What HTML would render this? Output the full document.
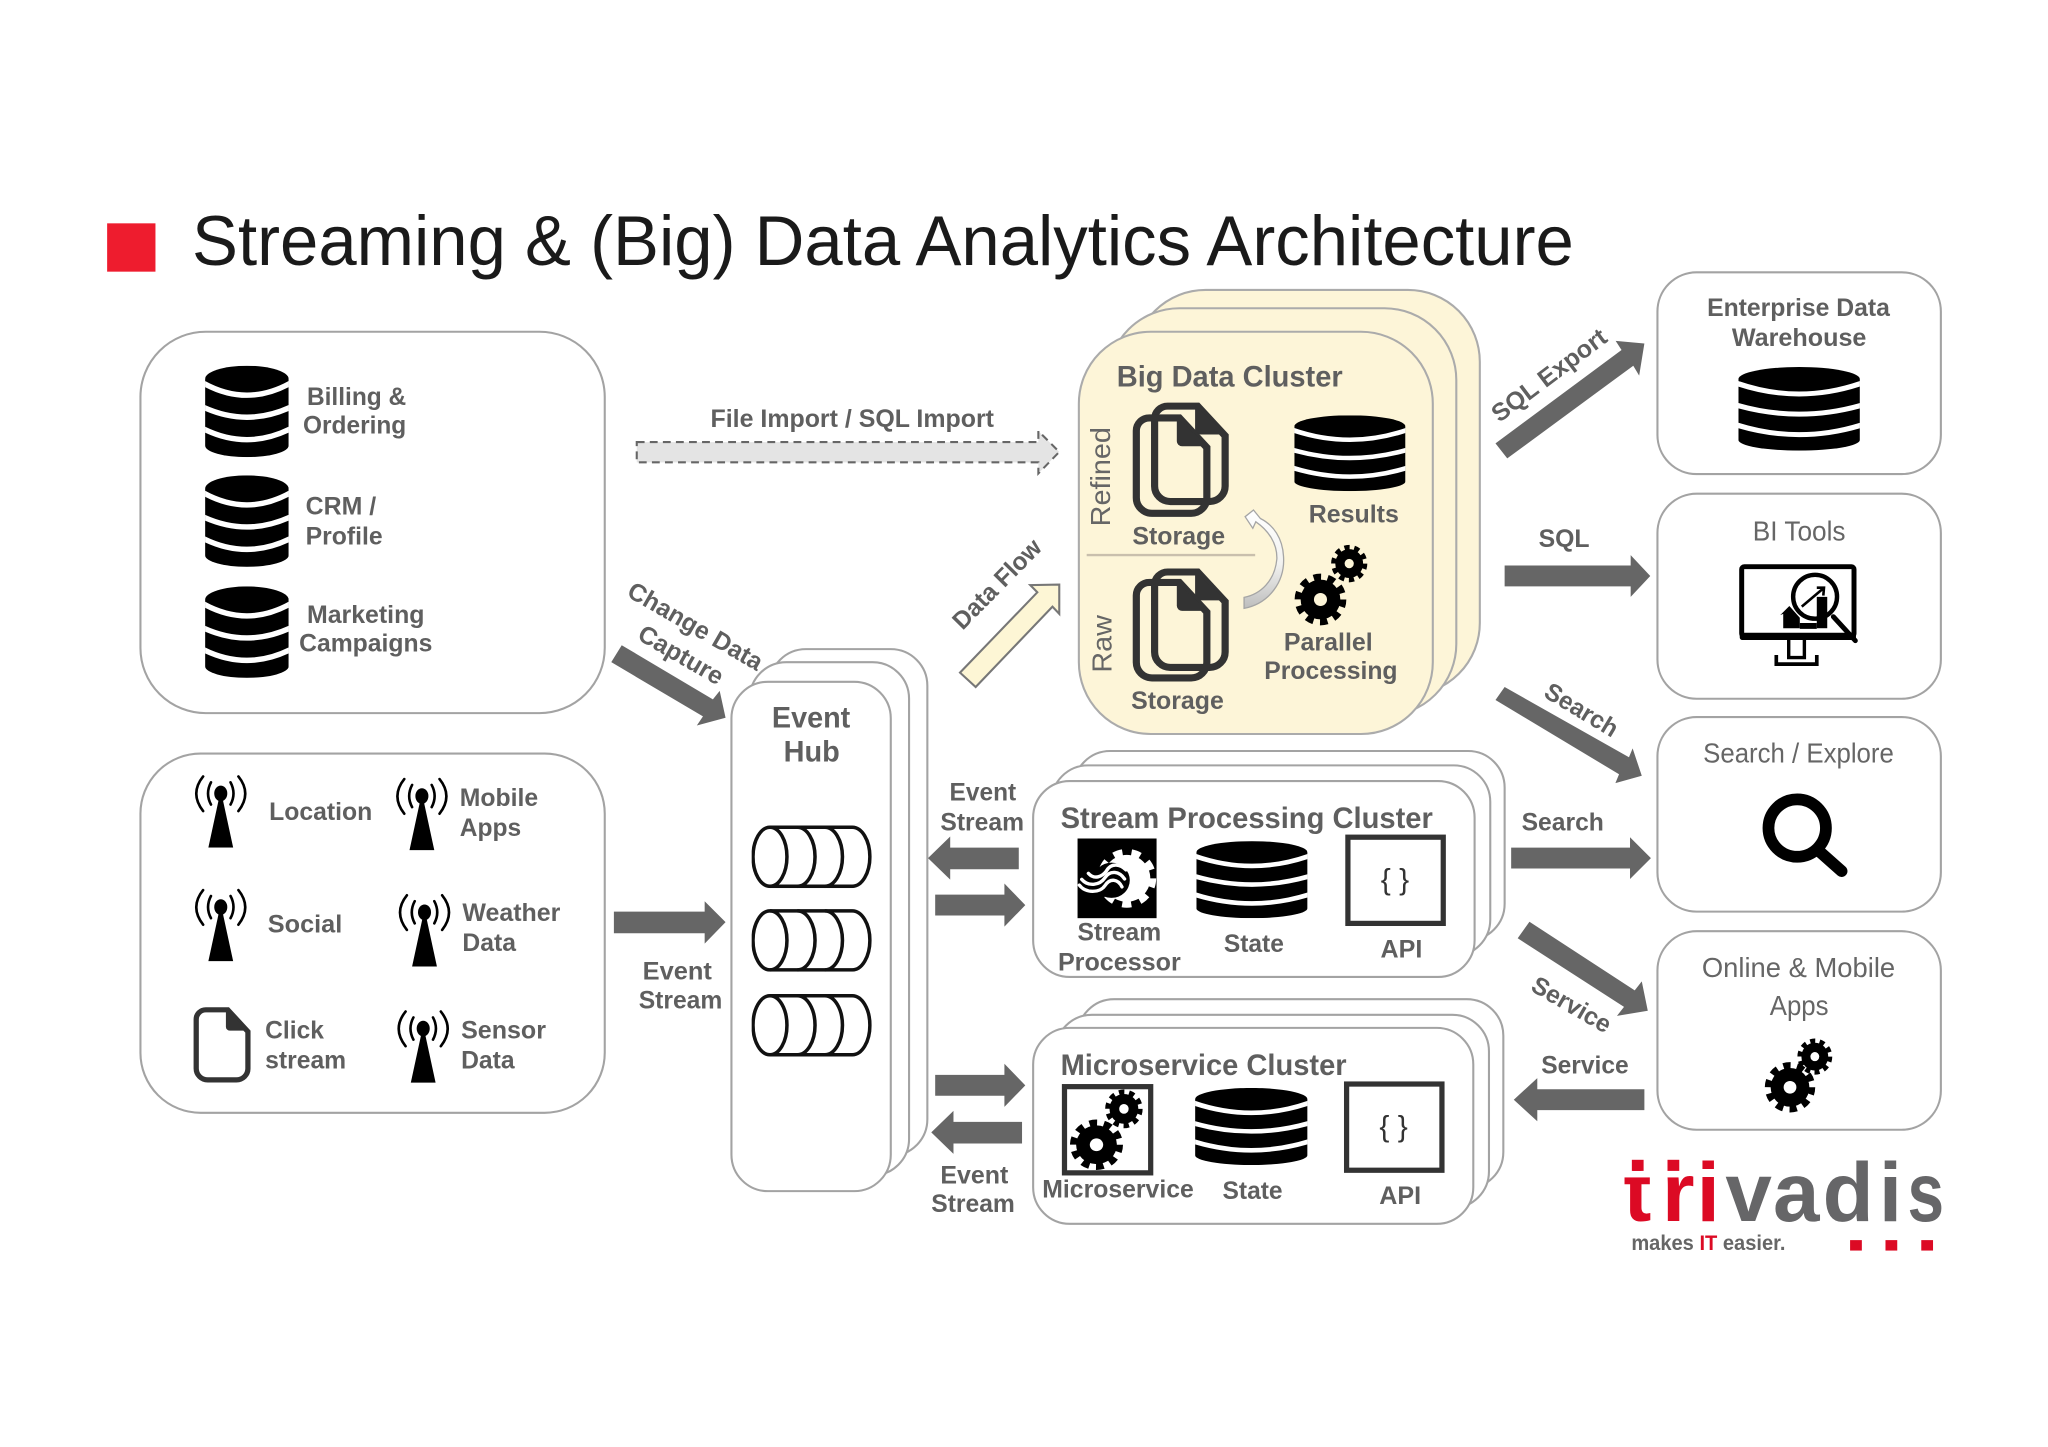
<!DOCTYPE html>
<html><head><meta charset="utf-8"><title>Streaming &amp; (Big) Data Analytics Architecture</title>
<style>
html,body{margin:0;padding:0;background:#fff}
svg{display:block}
text{font-family:"Liberation Sans",Arial,sans-serif}
.b{font-weight:bold;font-size:19px;fill:#5f5f5f}
.h{font-weight:bold;font-size:23px;fill:#5f5f5f}
.r{font-size:21px;fill:#666}
.box{fill:#fff;stroke:#a3a3a3;stroke-width:1.6}
.y{fill:#fdf5d8;stroke:#ababab;stroke-width:1.6}
.a{fill:#666}
</style></head><body>
<svg xmlns="http://www.w3.org/2000/svg" width="2048" height="1447" viewBox="0 0 1568 1107.9">
<defs>
<symbol id="db" viewBox="0 0 100 110" preserveAspectRatio="none">
<path d="M0 16A50 16 0 0 1 100 16V96A50 14 0 0 1 0 96Z" fill="#000"/>
<path d="M-2 21Q50 50 102 21M-2 50Q50 74 102 50M-2 76Q50 102 102 76" fill="none" stroke="#fff" stroke-width="6.500"/>
</symbol>
<symbol id="ant" viewBox="0 0 40 56">
<path d="M20 12L29.500 56H10.500Z" fill="#000"/><ellipse cx="20" cy="14.500" rx="5" ry="6" fill="#000"/>
<g fill="none" stroke="#000" stroke-width="2" stroke-linecap="round">
<path d="M12.500 6Q8 14.500 12.500 23M27.500 6Q32 14.500 27.500 23"/>
<path d="M6.500 1.500Q-4 14.500 6.500 28M33.500 1.500Q44 14.500 33.500 28"/>
</g>
</symbol>
<symbol id="doc" viewBox="0 0 60 80" preserveAspectRatio="none">
<path d="M13 3H36L57 26V65A12 12 0 0 1 45 77H15A12 12 0 0 1 3 65V13A10 10 0 0 1 13 3Z" fill="none" stroke="#333" stroke-width="5.500"/>
<path d="M34 3L58 25H38A4 4 0 0 1 34 21Z" fill="#333"/>
</symbol>
<symbol id="gear" viewBox="0 0 100 100" preserveAspectRatio="none">
<circle cx="50" cy="50" r="38" fill="#000"/>
<circle cx="50" cy="50" r="42" fill="none" stroke="#000" stroke-width="15" stroke-dasharray="14 12.390"/>
<circle cx="50" cy="50" r="12.500" fill="currentColor"/>
</symbol>
<symbol id="cyl" viewBox="0 0 92 48">
<g fill="none" stroke="#111" stroke-width="2.700">
<ellipse cx="14" cy="24" rx="13" ry="22.600"/>
<path d="M14 1.400H77A13.500 22.600 0 0 1 77 46.600H14"/>
<path d="M35 1.400A13.500 22.600 0 0 1 35 46.600M56 1.400A13.500 22.600 0 0 1 56 46.600"/>
</g>
</symbol>
<linearGradient id="cg" x1="0" y1="0" x2="0" y2="1"><stop offset="0" stop-color="#fff"/><stop offset="0.55" stop-color="#f2f2f0"/><stop offset="1" stop-color="#bdbdbd"/></linearGradient>
</defs>

<rect x="0" y="0" width="1568" height="1108" fill="#fff"/>
<rect x="82" y="171" width="37" height="37" fill="#ee1c2e"/>
<text x="147" y="203" font-size="54" fill="#1a1a1a" textLength="1058" lengthAdjust="spacingAndGlyphs">Streaming &amp; (Big) Data Analytics Architecture</text>

<!-- source boxes -->
<rect class="box" x="107.500" y="254" width="355.500" height="292" rx="50"/>
<rect class="box" x="107.500" y="577" width="355.500" height="275" rx="46"/>
<use href="#db" x="157" y="280" width="64" height="70"/>
<use href="#db" x="157" y="364" width="64" height="70"/>
<use href="#db" x="157" y="449" width="64" height="70"/>
<text class="b" x="235" y="310" textLength="76" lengthAdjust="spacingAndGlyphs">Billing &amp;</text>
<text class="b" x="232" y="332" textLength="79" lengthAdjust="spacingAndGlyphs">Ordering</text>
<text class="b" x="234" y="394" textLength="54" lengthAdjust="spacingAndGlyphs">CRM /</text>
<text class="b" x="234" y="417" textLength="59" lengthAdjust="spacingAndGlyphs">Profile</text>
<text class="b" x="235" y="477" textLength="90" lengthAdjust="spacingAndGlyphs">Marketing</text>
<text class="b" x="229" y="499" textLength="102" lengthAdjust="spacingAndGlyphs">Campaigns</text>

<use href="#ant" x="149" y="593" width="40" height="56"/>
<use href="#ant" x="303" y="595" width="40" height="56"/>
<use href="#ant" x="149" y="680" width="40" height="56"/>
<use href="#ant" x="305" y="684" width="40" height="56"/>
<use href="#ant" x="304" y="773" width="40" height="56"/>
<use href="#doc" x="148" y="771" width="44" height="58"/>
<text class="b" x="206" y="628" textLength="79" lengthAdjust="spacingAndGlyphs">Location</text>
<text class="b" x="352" y="617" textLength="60" lengthAdjust="spacingAndGlyphs">Mobile</text>
<text class="b" x="352" y="640" textLength="47" lengthAdjust="spacingAndGlyphs">Apps</text>
<text class="b" x="205" y="714" textLength="57" lengthAdjust="spacingAndGlyphs">Social</text>
<text class="b" x="354" y="705" textLength="75" lengthAdjust="spacingAndGlyphs">Weather</text>
<text class="b" x="354" y="728" textLength="41" lengthAdjust="spacingAndGlyphs">Data</text>
<text class="b" x="203" y="795" textLength="45" lengthAdjust="spacingAndGlyphs">Click</text>
<text class="b" x="203" y="818" textLength="62" lengthAdjust="spacingAndGlyphs">stream</text>
<text class="b" x="353" y="795" textLength="65" lengthAdjust="spacingAndGlyphs">Sensor</text>
<text class="b" x="353" y="818" textLength="41" lengthAdjust="spacingAndGlyphs">Data</text>

<!-- dashed import arrow -->
<text class="b" x="544" y="327" textLength="217" lengthAdjust="spacingAndGlyphs">File Import / SQL Import</text>
<polygon points="487.500,338.500 795,338.500 795,330 811,346 795,362.500 795,354 487.500,354" fill="#e4e4e4" stroke="#666" stroke-width="1.600" stroke-dasharray="6 4"/>

<!-- change data capture -->
<polygon class="a" points="476,494 545.800,535.500 551,529 555.500,549.500 533.500,555.500 538.200,548.500 468,507"/>

<!-- data flow arrow -->
<polygon points="735,515 794.200,453.500 788.800,448 811,447.600 811,470 805.800,464.500 747,526" fill="#fdf6d5" stroke="#777" stroke-width="1.600"/>
<text class="b" transform="translate(737,483) rotate(-45.500)" textLength="88" lengthAdjust="spacingAndGlyphs">Data Flow</text>

<!-- event hub -->
<rect class="box" x="589" y="497" width="121" height="388" rx="28"/>
<rect class="box" x="574" y="507" width="122" height="393" rx="28"/>
<rect class="box" x="560" y="522" width="122" height="390" rx="28"/>
<text class="b" transform="translate(479,456) rotate(30)" textLength="116" lengthAdjust="spacingAndGlyphs">Change Data</text>
<text class="b" transform="translate(487,489) rotate(30)" textLength="72" lengthAdjust="spacingAndGlyphs">Capture</text>
<text class="h" x="591" y="557" textLength="60" lengthAdjust="spacingAndGlyphs">Event</text>
<text class="h" x="600" y="583" textLength="43" lengthAdjust="spacingAndGlyphs">Hub</text>
<use href="#cyl" x="575.500" y="632" width="92" height="48"/>
<use href="#cyl" x="575.500" y="696" width="92" height="48"/>
<use href="#cyl" x="575.500" y="761" width="92" height="48"/>

<!-- event stream arrows -->
<polygon class="a" points="470,698 539.500,698 539.500,690 555.500,706 539.500,722.500 539.500,714.500 470,714.500"/>
<text class="b" x="492" y="750" textLength="53" lengthAdjust="spacingAndGlyphs">Event</text>
<text class="b" x="489" y="772" textLength="64" lengthAdjust="spacingAndGlyphs">Stream</text>
<polygon class="a" points="710.500,657 727.500,640.500 727.500,649 780,649 780,665.500 727.500,665.500 727.500,673.500"/>
<polygon class="a" points="716,685 769,685 769,676.500 785,693 769,709.500 769,701 716,701"/>
<polygon class="a" points="716,823 769,823 769,814.500 785,831 769,847.500 769,839 716,839"/>
<polygon class="a" points="713,867 730,850.500 730,859 782.500,859 782.500,875.500 730,875.500 730,883.500"/>
<text class="b" x="727" y="613" textLength="51" lengthAdjust="spacingAndGlyphs">Event</text>
<text class="b" x="720" y="636" textLength="64" lengthAdjust="spacingAndGlyphs">Stream</text>
<text class="b" x="720" y="906" textLength="52" lengthAdjust="spacingAndGlyphs">Event</text>
<text class="b" x="713" y="928" textLength="64" lengthAdjust="spacingAndGlyphs">Stream</text>

<!-- big data cluster -->
<rect class="y" x="868" y="222" width="265" height="310" rx="55"/>
<rect class="y" x="848" y="236" width="267" height="312" rx="55"/>
<rect class="y" x="826" y="254" width="271" height="308" rx="55"/>
<text class="h" x="855" y="296" textLength="173" lengthAdjust="spacingAndGlyphs">Big Data Cluster</text>
<text class="r" font-size="22" transform="translate(850,403) rotate(-90)" textLength="76" lengthAdjust="spacingAndGlyphs" fill="#5a5a5a">Refined</text>
<text class="r" font-size="22" transform="translate(851,515) rotate(-90)" textLength="44" lengthAdjust="spacingAndGlyphs" fill="#5a5a5a">Raw</text>
<line x1="832" y1="425" x2="961" y2="425" stroke="#c9bfad" stroke-width="1.800"/>
<use href="#doc" x="881" y="308" width="60" height="79"/>
<use href="#doc" x="867" y="317" width="60" height="79"/>
<use href="#doc" x="881" y="435" width="60" height="79"/>
<use href="#doc" x="867" y="443" width="60" height="79"/>
<use href="#db" x="991" y="318" width="85" height="58"/>
<text class="b" x="867" y="417" textLength="71" lengthAdjust="spacingAndGlyphs">Storage</text>
<text class="b" x="866" y="543" textLength="71" lengthAdjust="spacingAndGlyphs">Storage</text>
<text class="b" x="1002" y="400" textLength="69" lengthAdjust="spacingAndGlyphs">Results</text>
<text class="b" x="983" y="498" textLength="68" lengthAdjust="spacingAndGlyphs">Parallel</text>
<text class="b" x="968" y="520" textLength="102" lengthAdjust="spacingAndGlyphs">Processing</text>
<path d="M952.500 465.800C972 462 984 445 982.700 426C982 412 975 402 965 397L959.700 390.500L953.300 395.600L959.200 404.500L961.500 399.500C971 406 978 416 977.600 428C976 445 965 455 952.500 457.400Z" fill="url(#cg)" stroke="#a5a5a5" stroke-width="1"/>
<use href="#gear" x="1019" y="417" width="28" height="29" color="#fdf5d8"/>
<use href="#gear" x="991" y="439" width="40" height="40" color="#fdf5d8"/>

<!-- stream cluster -->
<rect class="box" x="822" y="575" width="330" height="145" rx="28"/>
<rect class="box" x="805" y="586" width="336" height="146" rx="28"/>
<rect class="box" x="791" y="598" width="338" height="150" rx="28"/>
<text class="h" x="812" y="634" textLength="285" lengthAdjust="spacingAndGlyphs">Stream Processing Cluster</text>
<rect x="825" y="642" width="60.500" height="61" fill="#000"/>
<circle cx="862.700" cy="672.500" r="18" fill="#fff"/>
<circle cx="862.700" cy="672.500" r="20" fill="none" stroke="#fff" stroke-width="5" stroke-dasharray="7 6.960"/>
<ellipse cx="851" cy="674" rx="14" ry="13.500" fill="#000"/>
<g fill="none" stroke="#fff" stroke-width="2.600" stroke-linecap="round">
<path d="M833.300 668.700C838 674 844 671 847 667C851 660 858 662 862 666"/>
<path d="M828.200 673.300C833 679 842 678 846 672C850 666 857 667 861 673"/>
<path d="M826.400 677.700C831 684 842 684 846 678C850 672 856 673 859 679"/>
</g>
<use href="#db" x="916" y="644" width="85" height="59"/>
<rect x="1032" y="641" width="73" height="66" fill="#fff" stroke="#333" stroke-width="4"/>
<text x="1068" y="681" font-size="23" fill="#333" text-anchor="middle">{ }</text>
<text class="b" x="825" y="720" textLength="64" lengthAdjust="spacingAndGlyphs">Stream</text>
<text class="b" x="810" y="743" textLength="94" lengthAdjust="spacingAndGlyphs">Processor</text>
<text class="b" x="937" y="729" textLength="46" lengthAdjust="spacingAndGlyphs">State</text>
<text class="b" x="1057" y="733" textLength="32" lengthAdjust="spacingAndGlyphs">API</text>

<!-- microservice cluster -->
<rect class="box" x="825" y="765" width="326" height="145" rx="28"/>
<rect class="box" x="808" y="777" width="332" height="148" rx="28"/>
<rect class="box" x="791" y="787" width="337" height="150" rx="28"/>
<text class="h" x="812" y="823" textLength="219" lengthAdjust="spacingAndGlyphs">Microservice Cluster</text>
<rect x="815" y="832" width="66" height="66" fill="#fff" stroke="#333" stroke-width="4"/>
<use href="#gear" x="846" y="834" width="29" height="30" color="#fff"/>
<use href="#gear" x="819" y="857" width="41" height="39" color="#fff"/>
<use href="#db" x="915" y="833" width="86" height="59"/>
<rect x="1031" y="830" width="73" height="66" fill="#fff" stroke="#333" stroke-width="4"/>
<text x="1067" y="870" font-size="23" fill="#333" text-anchor="middle">{ }</text>
<text class="b" x="798" y="917" textLength="116" lengthAdjust="spacingAndGlyphs">Microservice</text>
<text class="b" x="936" y="918" textLength="46" lengthAdjust="spacingAndGlyphs">State</text>
<text class="b" x="1056" y="922" textLength="32" lengthAdjust="spacingAndGlyphs">API</text>

<!-- right arrows -->
<polygon class="a" points="1145,339.500 1241.500,268 1237,261 1259,263 1255,287.600 1250.500,280 1154,351"/>
<text class="b" transform="translate(1148,324) rotate(-37)" textLength="105" lengthAdjust="spacingAndGlyphs">SQL Export</text>
<polygon class="a" points="1152,433 1248.500,433 1248.500,425 1263.500,441 1248.500,457 1248.500,449 1152,449"/>
<text class="b" x="1178" y="419" textLength="39" lengthAdjust="spacingAndGlyphs">SQL</text>
<polygon class="a" points="1152,526 1247.200,579.800 1250,573 1257,594 1236.800,599.600 1239.600,592.800 1145,536"/>
<text class="b" transform="translate(1181,533) rotate(31)" textLength="62" lengthAdjust="spacingAndGlyphs">Search</text>
<polygon class="a" points="1157,649 1248,649 1248,641 1264,657 1248,673 1248,665 1157,665"/>
<text class="b" x="1165" y="636" textLength="63" lengthAdjust="spacingAndGlyphs">Search</text>
<polygon class="a" points="1171,705.700 1251.600,758.300 1257,751.400 1261.600,773.900 1238,777.800 1243.400,770.900 1162,718.400"/>
<text class="b" transform="translate(1171,758) rotate(30)" textLength="67" lengthAdjust="spacingAndGlyphs">Service</text>
<polygon class="a" points="1159,842 1177,825.500 1177,834 1259,834 1259,850 1177,850 1177,858.500"/>
<text class="b" x="1180" y="822" textLength="67" lengthAdjust="spacingAndGlyphs">Service</text>

<!-- right boxes -->
<rect class="box" x="1269" y="208.500" width="217" height="154.500" rx="30"/>
<rect class="box" x="1269" y="378" width="217" height="157" rx="30"/>
<rect class="box" x="1269" y="549" width="217" height="149" rx="30"/>
<rect class="box" x="1269" y="713" width="217" height="152" rx="30"/>
<text class="b" x="1307" y="242" textLength="140" lengthAdjust="spacingAndGlyphs">Enterprise Data</text>
<text class="b" x="1326" y="265" textLength="103" lengthAdjust="spacingAndGlyphs">Warehouse</text>
<use href="#db" x="1331" y="281" width="93" height="64"/>
<text class="r" x="1342" y="414" textLength="71" lengthAdjust="spacingAndGlyphs">BI Tools</text>
<text class="r" x="1304" y="584" textLength="146" lengthAdjust="spacingAndGlyphs">Search / Explore</text>
<text class="r" x="1303" y="748" textLength="148" lengthAdjust="spacingAndGlyphs">Online &amp; Mobile</text>
<text class="r" x="1355" y="777" textLength="45" lengthAdjust="spacingAndGlyphs">Apps</text>

<!-- BI icon -->
<rect x="1333.500" y="433.900" width="86" height="53" rx="2" fill="#fff" stroke="#000" stroke-width="3.800"/>
<rect x="1332" y="484.500" width="89" height="5.500" rx="2" fill="#000"/>
<path d="M1369.500 490V503.500H1381.500V490" fill="none" stroke="#000" stroke-width="2.600"/>
<path d="M1360 501.500V508.500H1391V501.500" fill="none" stroke="#000" stroke-width="2.800"/>
<path d="M1363 471L1370 464L1378 473V481H1365.300V470Z" fill="#000"/>
<rect x="1378" y="477" width="13" height="4.500" fill="#000"/>
<rect x="1391" y="457" width="8" height="24" fill="#000"/>
<circle cx="1389.700" cy="456.900" r="16.800" fill="none" stroke="#000" stroke-width="3.400"/>
<path d="M1379.500 464.500L1396 450.500M1391 450L1396.500 450L1396 456" fill="none" stroke="#000" stroke-width="2"/>
<line x1="1403.700" y1="472.200" x2="1420.500" y2="490.500" stroke="#000" stroke-width="3.800" stroke-linecap="round"/>

<!-- search icon -->
<circle cx="1376" cy="634" r="22" fill="#fff" stroke="#000" stroke-width="9"/>
<line x1="1392" y1="651" x2="1410" y2="667" stroke="#000" stroke-width="9" stroke-linecap="round"/>

<!-- online gears -->
<use href="#gear" x="1376" y="795" width="27" height="28" color="#fff"/>
<use href="#gear" x="1351" y="813" width="39" height="39" color="#fff"/>

<!-- logo -->
<text y="935" font-size="64" font-weight="bold" fill="#dc0a24" x="1243 1272.500 1299">tri</text>
<text y="935" font-size="64" font-weight="bold" fill="#666668" x="1321 1357.500 1395.500 1438.500">vadi</text>
<text x="1460.500" y="935" font-size="64" font-weight="bold" fill="#666668" textLength="28" lengthAdjust="spacingAndGlyphs">s</text>
<rect x="1243" y="896.500" width="45" height="5" fill="#fff"/>
<rect x="1249.400" y="888" width="9" height="8.500" fill="#dc0a24"/>
<rect x="1276.700" y="888" width="9" height="8.500" fill="#dc0a24"/>
<text x="1249" y="957" font-size="16" font-weight="bold" fill="#666" textLength="118" lengthAdjust="spacingAndGlyphs">makes <tspan fill="#dc0a24">IT</tspan> easier.</text>
<rect x="1416.500" y="949.500" width="9" height="8" fill="#dc0a24"/>
<rect x="1443.600" y="949.500" width="9" height="8" fill="#dc0a24"/>
<rect x="1471" y="949.500" width="9" height="8" fill="#dc0a24"/>
</svg>
</body></html>
